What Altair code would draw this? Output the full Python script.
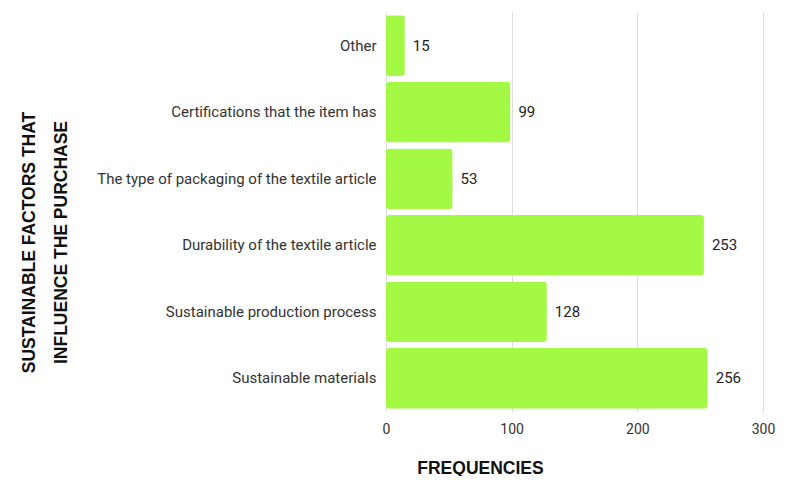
import altair as alt
import pandas as pd

factors = [
    "Other",
    "Certifications that the item has",
    "The type of packaging of the textile article",
    "Durability of the textile article",
    "Sustainable production process",
    "Sustainable materials",
]
frequencies = [15, 99, 53, 253, 128, 256]

df = pd.DataFrame({"factor": factors, "freq": frequencies})

y_enc = alt.Y(
    "factor:N",
    sort=factors,
    scale=alt.Scale(paddingInner=0.09, paddingOuter=0.05),
    axis=alt.Axis(
        title=["SUSTAINABLE FACTORS THAT", "INFLUENCE THE PURCHASE"],
        titleFont="Liberation Sans",
        titleFontWeight="bold",
        titleFontSize=17.5,
        titleColor="#111",
        titleLineHeight=32,
        titleAngle=-90,
        titleAlign="center",
        titleBaseline="top",
        titleX=-366,
        titleY=230,
        labelFont="Roboto",
        labelFontSize=15,
        labelColor="#333",
        labelPadding=10,
        labelLimit=400,
        ticks=False,
        domain=False,
    ),
)

x_enc = alt.X(
    "freq:Q",
    scale=alt.Scale(domain=[0, 300]),
    axis=alt.Axis(
        values=[0, 100, 200, 300],
        title="FREQUENCIES",
        titleFont="Liberation Sans",
        titleFontWeight="bold",
        titleFontSize=17.5,
        titleColor="#111",
        titleX=94,
        titleY=56,
        titleAlign="center",
        titleBaseline="middle",
        labelFont="Roboto",
        labelFontSize=14,
        labelColor="#333",
        labelPadding=10,
        labelFlush=False,
        ticks=False,
        domain=False,
        grid=True,
        gridColor="#dddddd",
    ),
)

bars = alt.Chart(df).mark_bar(color="#A3F943", cornerRadius=3).encode(x=x_enc, y=y_enc)

labels = alt.Chart(df).mark_text(
    align="left", baseline="middle", dx=8, font="Roboto", fontSize=15, color="#222"
).encode(
    x=alt.X("freq:Q"),
    y=alt.Y("factor:N", sort=factors),
    text="freq:Q",
)

chart = (
    alt.layer(bars, labels)
    .properties(
        width=377,
        height=400,
        autosize=alt.AutoSizeParams(type="none"),
        padding={"left": 378, "top": 4, "right": 15, "bottom": 64},
    )
    .configure_view(stroke=None)
)

chart.save("out.html", embed_options={"renderer": "svg", "actions": False})
